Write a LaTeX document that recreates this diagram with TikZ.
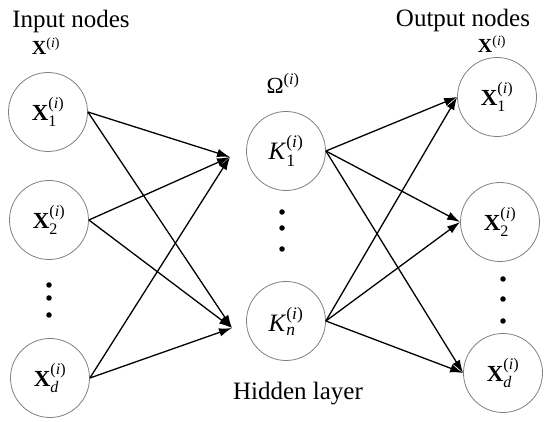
\documentclass[tikz,border=0pt]{standalone}
\usepackage{amsmath}
\usepackage{fontspec}
\setmainfont{Liberation Serif}
\usetikzlibrary{arrows.meta}
\newcommand{\vecX}[1]{\textbf{X}$_{\textrm{#1}}^{\textrm{(\textit{i})}}$}
\newcommand{\vecXi}[1]{\textbf{X}$_{\textit{#1}}^{\textrm{(\textit{i})}}$}
\begin{document}
\begin{tikzpicture}[x=1pt,y=-1pt,
  neuron/.style={circle,draw=black!50,line width=0.8pt,minimum size=79pt,inner sep=0pt,
    font=\fontsize{23}{27}\selectfont},
  hidden/.style={neuron,font=\fontsize{25}{29}\selectfont},
  title/.style={anchor=base,font=\fontsize{25}{30}\selectfont},
  setlabel/.style={anchor=base,font=\fontsize{20}{24}\selectfont},
  arr/.style={line width=1.3pt,-{Latex[length=13pt,width=8.5pt]}},
  vdot/.style={circle,fill=black,inner sep=0pt,minimum size=5.5pt}]
\useasboundingbox (0,0) rectangle (550,422);
% titles
\node[title] (tin) at (71,28) {Input nodes};
\node[title] (tout) at (463,27) {Output nodes};
\node[title] (thid) at (298,400) {Hidden layer};
\node[setlabel] (lin) at (46,55) {\textbf{X}$^{\textrm{(\textit{i})}}$};
\node[setlabel] (lout) at (492,53) {\textbf{X}$^{\textrm{(\textit{i})}}$};
\node[anchor=base,font=\fontsize{23}{27}\selectfont] (lom) at (283,94) {Ω$^{\textrm{(\textit{i})}}$};
% input nodes
\node[neuron] (x1) at (48,112) {\vecX{1}};
\node[neuron] (x2) at (49,220) {\vecX{2}};
\node[neuron] (xd) at (50,378) {\vecXi{d}};
% hidden nodes
\node[hidden] (k1) at (286,151) {\textit{K}$_{\textrm{1}}^{\textrm{(\textit{i})}}$};
\node[hidden] (kn) at (286,321) {\textit{K}$_{\textit{n}}^{\textrm{(\textit{i})}}$};
% output nodes
\node[neuron] (o1) at (497,97) {\vecX{1}};
\node[neuron] (o2) at (500,222) {\vecX{2}};
\node[neuron] (od) at (503,373) {\vecXi{d}};
% dots
\node[vdot] (ld1) at (49,285) {};
\node[vdot] (ld2) at (49,298) {};
\node[vdot] (ld3) at (49,315) {};
\node[vdot] (hd1) at (282,212) {};
\node[vdot] (hd2) at (282,228) {};
\node[vdot] (hd3) at (282,249) {};
\node[vdot] (rd1) at (503,279) {};
\node[vdot] (rd2) at (503,299) {};
\node[vdot] (rd3) at (503,321) {};
% arrow targets
\coordinate (k1in) at (230,157);
\coordinate (knin) at (232,328);
% input -> hidden
\foreach \s in {x1,x2,xd} {
  \draw[arr] (\s.east) -- (k1in);
  \draw[arr] (\s.east) -- (knin);
}
% hidden -> output
\foreach \s in {k1,kn} {
  \foreach \t in {o1,o2,od} {
    \draw[arr] (\s.east) -- (\t.west);
  }
}
\end{tikzpicture}
\end{document}
